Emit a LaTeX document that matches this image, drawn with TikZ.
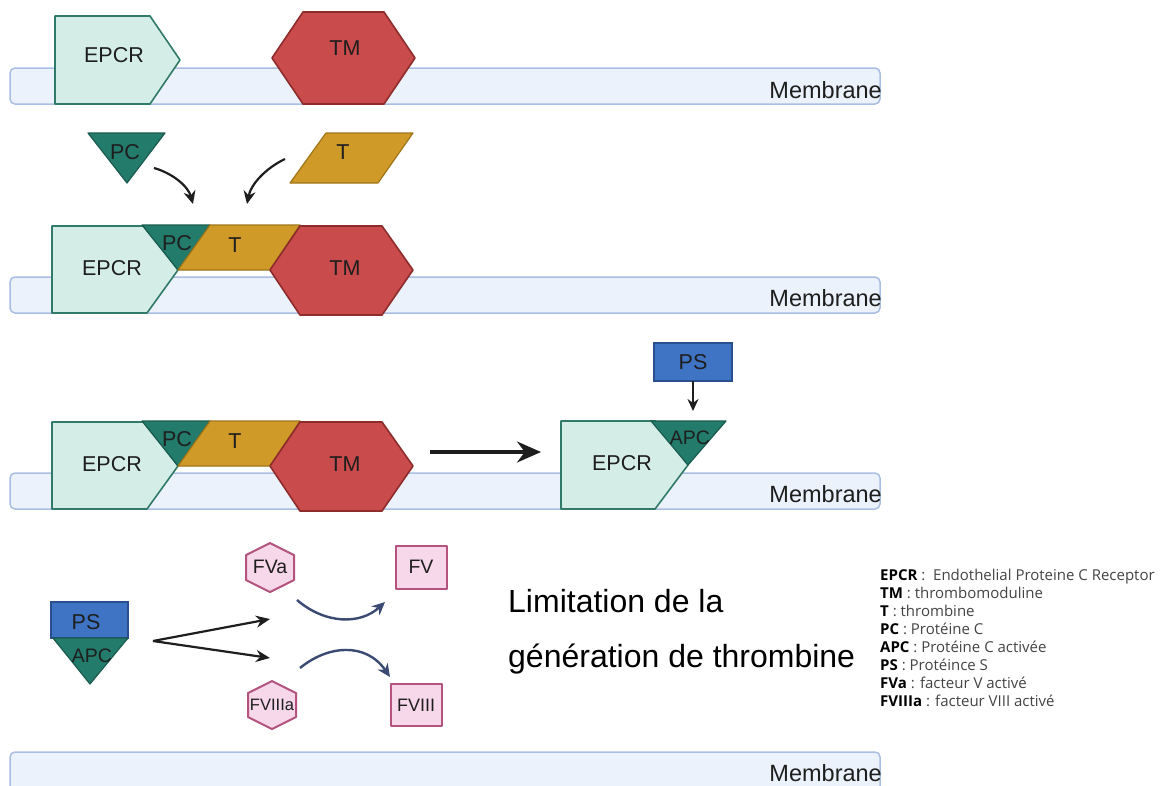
\documentclass[tikz,border=0pt]{standalone}
\usepackage{fontspec}
\setmainfont{Liberation Sans}
\newfontfamily\legfont{Open Sans}
\usetikzlibrary{arrows.meta}
\definecolor{membfill}{HTML}{EBF2FB}
\definecolor{membline}{HTML}{A9BEE2}
\definecolor{epcrfill}{HTML}{D4EDE7}
\definecolor{epcrline}{HTML}{2F7A68}
\definecolor{tmfill}{HTML}{C94B4B}
\definecolor{tmline}{HTML}{8E2C2C}
\definecolor{pcfill}{HTML}{237B6B}
\definecolor{pcline}{HTML}{1A5B4F}
\definecolor{tfill}{HTML}{CF9A28}
\definecolor{tline}{HTML}{A07518}
\definecolor{psfill}{HTML}{3F74C4}
\definecolor{psline}{HTML}{2A4F8F}
\definecolor{fvfill}{HTML}{F7D8EA}
\definecolor{fvline}{HTML}{B2547E}
\definecolor{curvecol}{HTML}{3A4A72}
\definecolor{txt}{HTML}{1E1E1E}
\definecolor{legtxt}{HTML}{444444}
\begin{document}
\begin{tikzpicture}[x=1pt,y=-1pt,
  memb/.style={draw=membline,fill=membfill,rounded corners=5pt,line width=1.5pt},
  epcr/.style={draw=epcrline,fill=epcrfill,line width=1.6pt,line join=round},
  tmshape/.style={draw=tmline,fill=tmfill,line width=1.6pt,line join=round},
  pcshape/.style={draw=pcline,fill=pcfill,line width=1.2pt,line join=round},
  tshape/.style={draw=tline,fill=tfill,line width=1.2pt,line join=round},
  psshape/.style={draw=psline,fill=psfill,line width=1.4pt},
  fvshape/.style={draw=fvline,fill=fvfill,line width=2pt,line join=round},
  lbl/.style={inner sep=0pt,text=txt,font=\fontsize{21.5}{25}\selectfont},
  smalllbl/.style={inner sep=0pt,text=txt,font=\fontsize{19.5}{23}\selectfont},
  memlbl/.style={inner sep=0pt,anchor=east,text=txt,font=\fontsize{23.5}{27}\selectfont},
  leg/.style={inner sep=0pt,anchor=base west,text=legtxt,font=\legfont\fontsize{15}{18}\selectfont},
  bigtext/.style={inner sep=0pt,anchor=base west,text=black,font=\fontsize{32}{38}\selectfont},
  curvarrow/.style={-{Stealth[length=13pt,width=12pt]},line width=2.2pt,draw=txt},
  bluearrow/.style={-{Stealth[length=13pt,width=12pt]},line width=2.4pt,draw=curvecol},
  straightarrow/.style={-{Stealth[length=14pt,width=12pt]},line width=2.2pt,draw=txt},
  bigarrow/.style={-{Stealth[length=24pt,width=21pt]},line width=3.2pt,draw=txt}]
\useasboundingbox (0,0) rectangle (1172,785);
\fill[white] (0,0) rectangle (1172,785);
\clip (0,0) rectangle (1172,785);

% ===== Row 1 =====
\draw[memb] (10,68) rectangle (880,104);
\node[memlbl] (mem1) at (882,90) {Membrane};
\draw[epcr] (55,16) -- (150,16) -- (180,60) -- (150,104) -- (55,104) -- cycle;
\node[lbl] (epcr1) at (114,55) {EPCR};
\draw[tmshape] (272,58) -- (303,12) -- (384,12) -- (415,58) -- (384,104) -- (303,104) -- cycle;
\node[lbl] (tm1) at (345,48) {TM};

\draw[pcshape] (88,133) -- (165,133) -- (127,183) -- cycle;
\node[lbl] (pc1) at (125,152) {PC};
\draw[tshape] (326,133) -- (413,133) -- (378,183) -- (290,183) -- cycle;
\node[lbl] (t1) at (343,152) {T};
\coordinate (pcarr) at (154,168);
\coordinate (pcend) at (193,204);
\coordinate (tarr) at (285,159);
\coordinate (tend) at (247,204);
\draw[curvarrow] (pcarr) .. controls (172,173) and (188,186) .. (pcend);
\draw[curvarrow] (tarr) .. controls (266,168) and (251,184) .. (tend);

% ===== Row 2 =====
\draw[memb] (10,277) rectangle (880,313);
\node[memlbl] (mem2) at (882,298) {Membrane};
\draw[epcr] (52,226) -- (145,226) -- (178,270) -- (147,313) -- (52,313) -- cycle;
\node[lbl] (epcr2) at (112,268) {EPCR};
\draw[pcshape] (142,225) -- (210,225) -- (178,270) -- cycle;
\node[lbl] (pc2) at (177,243) {PC};
\draw[tshape] (210,225) -- (300,225) -- (270,270) -- (178,270) -- cycle;
\node[lbl] (t2) at (235,245) {T};
\draw[tmshape] (270,270) -- (300,226) -- (382,226) -- (413,270) -- (382,315) -- (300,315) -- cycle;
\node[lbl] (tm2) at (345,268) {TM};

% ===== Row 3 =====
\draw[memb] (10,473) rectangle (880,509);
\node[memlbl] (mem3) at (882,494) {Membrane};
\draw[epcr] (52,422) -- (145,422) -- (178,466) -- (147,509) -- (52,509) -- cycle;
\node[lbl] (epcr3) at (112,464) {EPCR};
\draw[pcshape] (142,421) -- (210,421) -- (178,466) -- cycle;
\node[lbl] (pc3) at (177,439) {PC};
\draw[tshape] (210,421) -- (300,421) -- (270,466) -- (178,466) -- cycle;
\node[lbl] (t3) at (235,441) {T};
\draw[tmshape] (270,466) -- (300,422) -- (382,422) -- (413,466) -- (382,511) -- (300,511) -- cycle;
\node[lbl] (tm3) at (345,464) {TM};

\coordinate (bigs) at (430,452);
\coordinate (bige) at (541,452);
\draw[bigarrow] (bigs) -- (bige);

\draw[epcr] (561,421) -- (655,421) -- (688,465) -- (655,509) -- (561,509) -- cycle;
\node[lbl] (epcr4) at (622,463) {EPCR};
\draw[pcshape] (651,421) -- (726,421) -- (688,465) -- cycle;
\node[smalllbl] (apc1) at (690,438) {APC};
\draw[psshape] (654,343) rectangle (732,381);
\node[lbl] (ps1) at (693,362) {PS};
\coordinate (psbot) at (693,381);
\coordinate (apctop) at (693,411);
\draw[-{Stealth[length=12pt,width=11pt]},line width=2pt,draw=txt] (psbot) -- (apctop);

% ===== Row 4 =====
\draw[psshape] (51,602) rectangle (128,638);
\node[lbl] (ps2) at (86,622) {PS};
\draw[pcshape] (53,638) -- (128,638) -- (90,684) -- cycle;
\node[smalllbl] (apc2) at (92,656) {APC};
\coordinate (split) at (153,641);
\coordinate (toFVa) at (270,619);
\coordinate (toFVIIIa) at (270,658);
\draw[straightarrow] (split) -- (toFVa);
\draw[straightarrow] (split) -- (toFVIIIa);

\draw[fvshape] (270,543) -- (294,555) -- (294,580) -- (270,592) -- (246,580) -- (246,555) -- cycle;
\node[lbl,font=\fontsize{19.5}{22}\selectfont] (fva) at (270,567) {FVa};
\draw[fvshape] (396,546) rectangle (447,589);
\node[lbl,font=\fontsize{19.5}{22}\selectfont] (fv) at (421,567) {FV};
\draw[fvshape] (272,681) -- (296,693) -- (296,717) -- (272,729) -- (248,717) -- (248,693) -- cycle;
\node[lbl,font=\fontsize{16.5}{19}\selectfont] (fviiia) at (272,705) {FVIIIa};
\draw[fvshape] (391,684) rectangle (442,726);
\node[lbl,font=\fontsize{18}{21}\selectfont] (fviii) at (416,705) {FVIII};

\coordinate (c1s) at (297,600);
\coordinate (c1e) at (385,602);
\coordinate (c2s) at (300,668);
\coordinate (c2e) at (390,677);
\draw[bluearrow] (c1s) .. controls (325,624) and (360,625) .. (c1e);
\draw[bluearrow] (c2s) .. controls (328,645) and (366,642) .. (c2e);

\node[bigtext] (lim1) at (508,612) {Limitation de la};
\node[bigtext] (lim2) at (508,667) {génération de thrombine};

\node[leg] (leg1) at (880,580.5) {\textbf{\color{black}EPCR} :\ \ Endothelial Proteine C Receptor};
\node[leg] (leg2) at (880,598.5) {\textbf{\color{black}TM} : thrombomoduline};
\node[leg] (leg3) at (880,616.5) {\textbf{\color{black}T} : thrombine};
\node[leg] (leg4) at (880,634.5) {\textbf{\color{black}PC} : Protéine C};
\node[leg] (leg5) at (880,652.5) {\textbf{\color{black}APC} : Protéine C activée};
\node[leg] (leg6) at (880,670.5) {\textbf{\color{black}PS} : Protéince S};
\node[leg] (leg7) at (880,688.5) {\textbf{\color{black}FVa} : facteur V activé};
\node[leg] (leg8) at (880,706.5) {\textbf{\color{black}FVIIIa} : facteur VIII activé};

% ===== Bottom membrane =====
\draw[memb] (10,752) rectangle (880,800);
\node[memlbl] (mem4) at (882,773) {Membrane};
\end{tikzpicture}
\end{document}
